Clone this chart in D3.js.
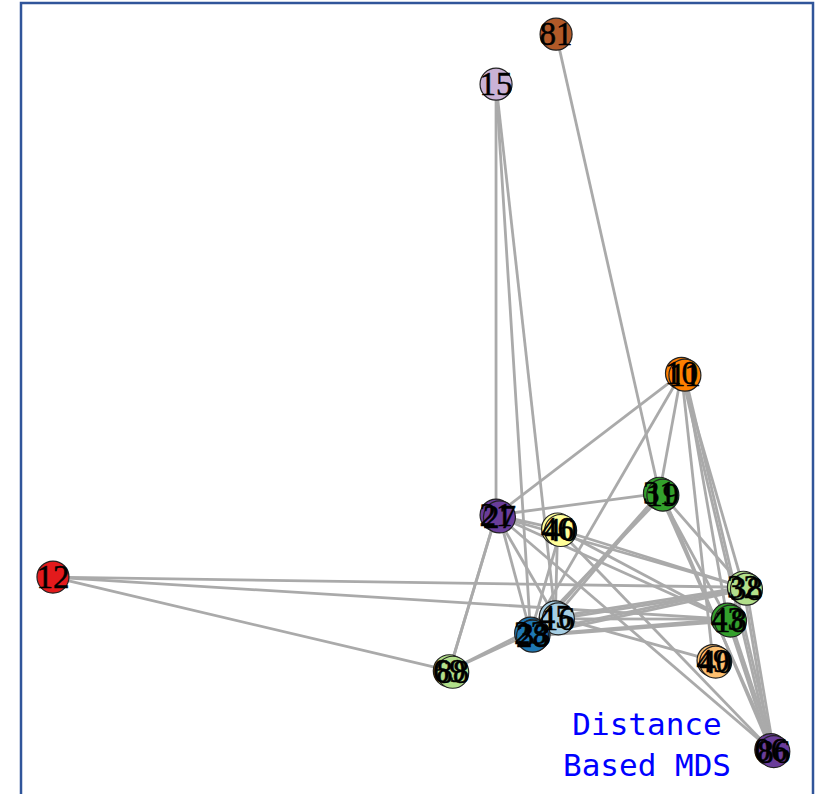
<!DOCTYPE html>
<html>
<head>
<meta charset="utf-8">
<script src="https://cdn.jsdelivr.net/npm/d3@7"></script>
<style>
    body { margin: 0; background: #fff; }
</style>
</head>
<body>
<div id="chart"></div>
<script>
// node labels, colour group and the two MDS coordinates
var labels = ['81', '15', '12', '10', '11', '31', '19', '21', '27', '46', '40', '32', '38',
    '43', '18', '49', '40', '06', '86', '45', '16', '23', '33', '28', '69', '88'];
var groups = [11, 8, 5, 7, 7, 3, 3, 9, 9, 10, 10, 2, 2,
    3, 3, 6, 6, 9, 9, 0, 0, 1, 1, 1, 2, 2];
var dim1 = [0.366, 0.208, -0.958, 0.696, 0.705, 0.638, 0.647, 0.208, 0.217, 0.370, 0.378, 0.859, 0.867,
    0.817, 0.825, 0.779, 0.786, 0.931, 0.939, 0.364, 0.372, 0.299, 0.308, 0.304, 0.085, 0.094];
var dim2 = [0.957, 0.824, -0.487, 0.055, 0.050, -0.264, -0.269, -0.322, -0.327, -0.359, -0.363, -0.514, -0.519,
    -0.599, -0.604, -0.709, -0.713, -0.946, -0.951, -0.593, -0.598, -0.636, -0.641, -0.644, -0.736, -0.740];

// edges as [source, target] node indices
var links = [
    [0, 5],
    [1, 7], [1, 21], [1, 19],
    [2, 11], [2, 13], [2, 24],
    [3, 7], [3, 5], [3, 21], [3, 11], [4, 13], [3, 15], [3, 17], [4, 18],
    [5, 7], [5, 19], [6, 21], [5, 22], [6, 11], [5, 13], [6, 17], [5, 18],
    [7, 9], [7, 19], [8, 21], [7, 24], [8, 11], [7, 13], [8, 17],
    [9, 19], [10, 21], [9, 11], [10, 13], [9, 17], [19, 15],
    [19, 11], [20, 13], [20, 12], [19, 24],
    [21, 11], [22, 13], [21, 24], [23, 14], [22, 12],
    [11, 13], [11, 17], [12, 18],
    [13, 17], [14, 18],
    [24, 7]
];

var titleLines = ['Distance', 'Based MDS'];

var width = 820;
var height = 794;

var svg = d3.select('#chart')
    .append('svg')
    .attr('width', width)
    .attr('height', height);

svg.append('rect')
    .attr('x', 21)
    .attr('y', 3)
    .attr('width', 792)
    .attr('height', 820)
    .attr('fill', '#fff')
    .attr('stroke', '#30559a')
    .attr('stroke-width', 2.5);

var x = d3.scaleLinear().domain([-1, 1]).range([37, 797]);
var y = d3.scaleLinear().domain([-1, 1]).range([770, 18]);
var color = d3.scaleOrdinal().domain(d3.range(12)).range(d3.schemePaired);

var nodes = labels.map(function (label, i) {
    return { label: label, group: groups[i], x: x(dim1[i]), y: y(dim2[i]) };
});

svg.append('g')
    .selectAll('line')
    .data(links)
    .join('line')
    .attr('x1', function (d) { return nodes[d[0]].x; })
    .attr('y1', function (d) { return nodes[d[0]].y; })
    .attr('x2', function (d) { return nodes[d[1]].x; })
    .attr('y2', function (d) { return nodes[d[1]].y; })
    .attr('stroke', '#aaa')
    .attr('stroke-width', 2.8);

svg.append('g')
    .selectAll('circle')
    .data(nodes)
    .join('circle')
    .attr('cx', function (d) { return d.x; })
    .attr('cy', function (d) { return d.y; })
    .attr('r', 16)
    .attr('fill', function (d) { return color(d.group); })
    .attr('stroke', '#222')
    .attr('stroke-width', 1.2);

// labels sit above every circle, so stacked nodes show all their numbers
svg.append('g')
    .selectAll('text')
    .data(nodes)
    .join('text')
    .text(function (d) { return d.label; })
    .attr('x', function (d) { return d.x; })
    .attr('y', function (d) { return d.y + 11; })
    .attr('text-anchor', 'middle')
    .attr('font-family', '"Liberation Serif", "Times New Roman", serif')
    .attr('font-size', 33)
    .attr('fill', '#000')
    .attr('stroke', '#000')
    .attr('stroke-width', 0.5);

svg.append('g')
    .selectAll('text')
    .data(titleLines)
    .join('text')
    .text(function (d) { return d; })
    .attr('x', 647)
    .attr('y', function (d, i) { return 735 + i * 41; })
    .attr('text-anchor', 'middle')
    .attr('font-family', '"DejaVu Sans Mono", monospace')
    .attr('font-size', 31)
    .attr('fill', '#0000ff');
</script>
</body>
</html>
